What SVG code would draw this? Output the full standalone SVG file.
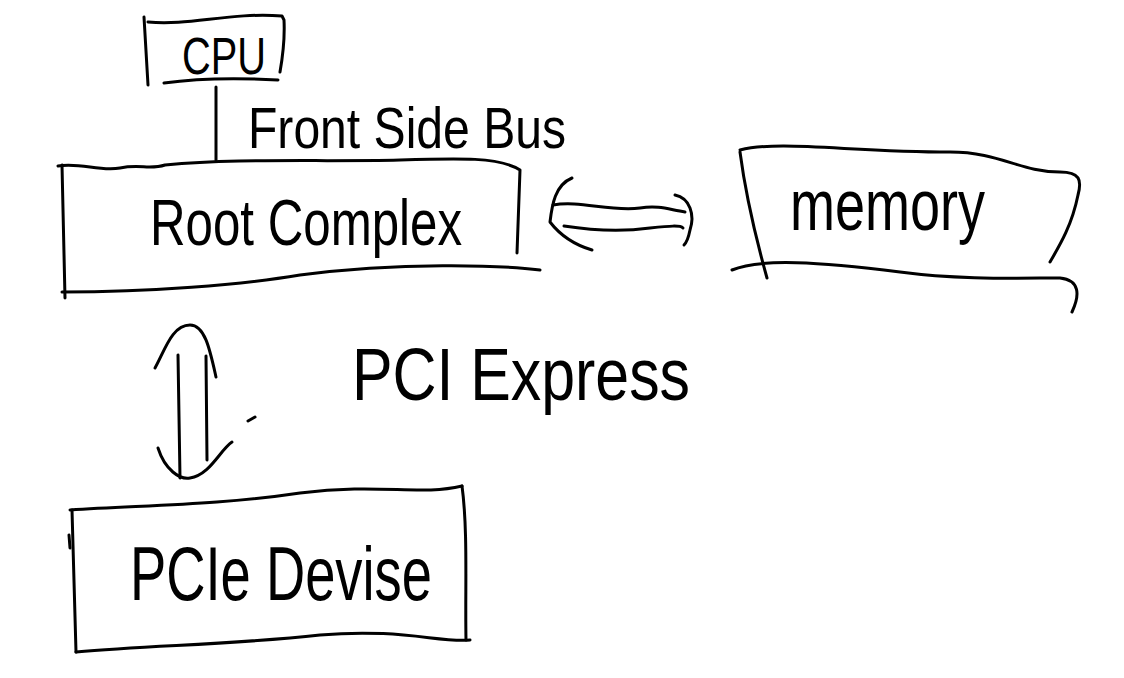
<svg xmlns="http://www.w3.org/2000/svg" width="1124" height="678" viewBox="0 0 1124 678">
<style>
.s{fill:none;stroke:#000;stroke-width:3;stroke-linecap:round;stroke-linejoin:round}
.t{font-family:"Liberation Sans",Arial,sans-serif;fill:#000;font-weight:normal}
</style>
<rect width="1124" height="678" fill="#fff"/>
<g id="cpu">
<path class="s" d="M144,17 L148,85"/>
<path class="s" d="M148,22 C190,26 230,12 282,16 L284,20 C285,40 283,55 280,72"/>
<path class="s" d="M164,83 C200,78 240,78 278,80"/>
<text class="t" x="182" y="74" font-size="52" textLength="84" lengthAdjust="spacingAndGlyphs">CPU</text>
</g>
<g id="root-complex">
<path class="s" d="M58,166 C80,162 100,172 120,168 C140,164 150,170 165,165 C240,158 320,162 400,160 C460,158 500,157 520,170 L517,253"/>
<path class="s" d="M62,165 L65,298"/>
<path class="s" d="M62,292 C150,292 240,285 300,275 C400,262 500,265 540,270"/>
<text class="t" x="150" y="245" font-size="64" textLength="312" lengthAdjust="spacingAndGlyphs">Root Complex</text>
</g>
<g id="memory">
<path class="s" d="M740,150 C780,140 850,152 950,152 C1000,152 1020,172 1060,172 C1080,172 1082,180 1078,195 C1072,225 1060,245 1050,262"/>
<path class="s" d="M740,152 C745,190 755,235 767,278"/>
<path class="s" d="M732,270 C760,258 820,262 900,272 C960,280 1020,278 1060,278 C1080,280 1080,295 1072,312"/>
<text class="t" x="790" y="230" font-size="72" textLength="195" lengthAdjust="spacingAndGlyphs">memory</text>
</g>
<g id="pcie-device">
<path class="s" d="M70,510 C150,505 220,505 300,493 C380,483 420,496 462,486"/>
<path class="s" d="M72,510 L76,652"/>
<path class="s" d="M69,535 L70,548"/>
<path class="s" d="M462,486 C468,530 465,590 466,640"/>
<path class="s" d="M76,652 C150,645 230,645 320,635 C400,628 440,643 470,640"/>
<text class="t" x="130" y="600" font-size="76" textLength="302" lengthAdjust="spacingAndGlyphs">PCIe Devise</text>
</g>
<g id="labels">
<text class="t" x="248" y="148" font-size="58" textLength="318" lengthAdjust="spacingAndGlyphs">Front Side Bus</text>
<text class="t" x="352" y="400" font-size="74" textLength="338" lengthAdjust="spacingAndGlyphs">PCI Express</text>
</g>
<g id="connectors">
<path class="s" d="M216,87 L216,160"/>
<path class="s" d="M572,178 C555,185 552,205 550,222 C560,235 575,245 592,250"/>
<path class="s" d="M553,205 C580,200 610,212 640,208 C660,205 670,210 685,212"/>
<path class="s" d="M564,226 C590,230 620,232 650,228 C670,226 680,225 683,228"/>
<path class="s" d="M675,195 C690,198 695,215 690,230 C688,240 686,243 684,245"/>
<path class="s" d="M155,368 C165,350 172,325 190,325 C205,325 210,350 216,377"/>
<path class="s" d="M178,355 L180,478"/>
<path class="s" d="M206,356 L207,460"/>
<path class="s" d="M158,448 C165,470 180,480 190,478 C210,475 220,450 232,442"/>
<path class="s" d="M248,421 L255,417"/>
</g>
</svg>
